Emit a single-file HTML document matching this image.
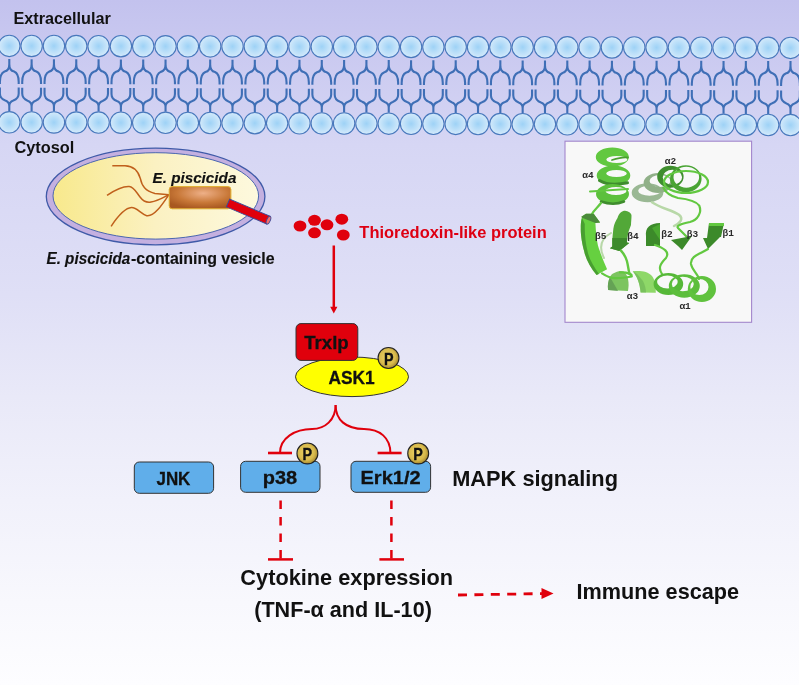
<!DOCTYPE html>
<html><head><meta charset="utf-8">
<style>
html,body{margin:0;padding:0;}
body{width:799px;height:685px;overflow:hidden;background:#fff;}
svg{display:block;will-change:transform;}
svg{font-family:"Liberation Sans",sans-serif;}
</style></head><body>
<svg width="799" height="685" viewBox="0 0 799 685">
<defs>
<linearGradient id="bg" x1="0" y1="0" x2="0" y2="1">
<stop offset="0" stop-color="#c3c2ee"/>
<stop offset="0.21" stop-color="#d6d6f4"/>
<stop offset="0.43" stop-color="#dfdff6"/>
<stop offset="0.58" stop-color="#e9e9f8"/>
<stop offset="0.73" stop-color="#f1f1fb"/>
<stop offset="0.88" stop-color="#f8f8fd"/>
<stop offset="1" stop-color="#fdfdff"/>
</linearGradient>
<radialGradient id="head" cx="0.5" cy="0.5" r="0.5">
<stop offset="0" stop-color="#9ed2f6"/>
<stop offset="1" stop-color="#d4eafb"/>
</radialGradient>
<linearGradient id="ves" x1="0" y1="0" x2="1" y2="0">
<stop offset="0" stop-color="#f8e98c"/>
<stop offset="0.5" stop-color="#fbf1c2"/>
<stop offset="1" stop-color="#fdf9de"/>
</linearGradient>
<radialGradient id="bact" cx="0.55" cy="0.3" r="0.7">
<stop offset="0" stop-color="#eeb088"/>
<stop offset="0.6" stop-color="#c87838"/>
<stop offset="1" stop-color="#a85820"/>
</radialGradient>
<radialGradient id="pg" cx="0.45" cy="0.45" r="0.55">
<stop offset="0" stop-color="#eed466"/>
<stop offset="0.7" stop-color="#d8ba4c"/>
<stop offset="1" stop-color="#a88a30"/>
</radialGradient>
</defs>
<rect x="0" y="0" width="799" height="685" fill="url(#bg)"/>
<text transform="translate(13.51,23.80) scale(0.9762,1)" font-size="16.62" font-weight="bold" font-style="normal" fill="#111" >Extracellular</text>
<path d="M-13.02,59.04 L-13.02,63.84 Q-13.02,70.44 -17.82,71.44 Q-22.42,73.44 -22.42,81.84 L-22.42,83.84 M-22.42,87.52 L-22.42,93.42 Q-22.42,98.42 -17.02,100.52 Q-13.02,101.72 -13.02,106.22 L-13.02,111.22 M-13.02,59.04 L-13.02,63.84 Q-13.02,70.44 -8.22,71.44 Q-3.62,73.44 -3.62,81.84 L-3.62,83.84 M-3.62,87.52 L-3.62,93.42 Q-3.62,98.42 -9.02,100.52 Q-13.02,101.72 -13.02,106.22 L-13.02,111.22 M9.30,59.10 L9.30,63.90 Q9.30,70.50 4.50,71.50 Q-0.10,73.50 -0.10,81.90 L-0.10,83.90 M-0.10,87.60 L-0.10,93.50 Q-0.10,98.50 5.30,100.60 Q9.30,101.80 9.30,106.30 L9.30,111.30 M9.30,59.10 L9.30,63.90 Q9.30,70.50 14.10,71.50 Q18.70,73.50 18.70,81.90 L18.70,83.90 M18.70,87.60 L18.70,93.50 Q18.70,98.50 13.30,100.60 Q9.30,101.80 9.30,106.30 L9.30,111.30 M31.62,59.16 L31.62,63.96 Q31.62,70.56 26.82,71.56 Q22.22,73.56 22.22,81.96 L22.22,83.96 M22.22,87.68 L22.22,93.58 Q22.22,98.58 27.62,100.68 Q31.62,101.88 31.62,106.38 L31.62,111.38 M31.62,59.16 L31.62,63.96 Q31.62,70.56 36.42,71.56 Q41.02,73.56 41.02,81.96 L41.02,83.96 M41.02,87.68 L41.02,93.58 Q41.02,98.58 35.62,100.68 Q31.62,101.88 31.62,106.38 L31.62,111.38 M53.94,59.21 L53.94,64.01 Q53.94,70.61 49.14,71.61 Q44.54,73.61 44.54,82.01 L44.54,84.01 M44.54,87.76 L44.54,93.66 Q44.54,98.66 49.94,100.76 Q53.94,101.96 53.94,106.46 L53.94,111.46 M53.94,59.21 L53.94,64.01 Q53.94,70.61 58.74,71.61 Q63.34,73.61 63.34,82.01 L63.34,84.01 M63.34,87.76 L63.34,93.66 Q63.34,98.66 57.94,100.76 Q53.94,101.96 53.94,106.46 L53.94,111.46 M76.26,59.27 L76.26,64.07 Q76.26,70.67 71.46,71.67 Q66.86,73.67 66.86,82.07 L66.86,84.07 M66.86,87.84 L66.86,93.74 Q66.86,98.74 72.26,100.84 Q76.26,102.04 76.26,106.54 L76.26,111.54 M76.26,59.27 L76.26,64.07 Q76.26,70.67 81.06,71.67 Q85.66,73.67 85.66,82.07 L85.66,84.07 M85.66,87.84 L85.66,93.74 Q85.66,98.74 80.26,100.84 Q76.26,102.04 76.26,106.54 L76.26,111.54 M98.58,59.33 L98.58,64.13 Q98.58,70.73 93.78,71.73 Q89.18,73.73 89.18,82.13 L89.18,84.13 M89.18,87.92 L89.18,93.82 Q89.18,98.82 94.58,100.92 Q98.58,102.12 98.58,106.62 L98.58,111.62 M98.58,59.33 L98.58,64.13 Q98.58,70.73 103.38,71.73 Q107.98,73.73 107.98,82.13 L107.98,84.13 M107.98,87.92 L107.98,93.82 Q107.98,98.82 102.58,100.92 Q98.58,102.12 98.58,106.62 L98.58,111.62 M120.90,59.39 L120.90,64.19 Q120.90,70.79 116.10,71.79 Q111.50,73.79 111.50,82.19 L111.50,84.19 M111.50,88.00 L111.50,93.90 Q111.50,98.90 116.90,101.00 Q120.90,102.20 120.90,106.70 L120.90,111.70 M120.90,59.39 L120.90,64.19 Q120.90,70.79 125.70,71.79 Q130.30,73.79 130.30,82.19 L130.30,84.19 M130.30,88.00 L130.30,93.90 Q130.30,98.90 124.90,101.00 Q120.90,102.20 120.90,106.70 L120.90,111.70 M143.22,59.44 L143.22,64.24 Q143.22,70.84 138.42,71.84 Q133.82,73.84 133.82,82.24 L133.82,84.24 M133.82,88.08 L133.82,93.98 Q133.82,98.98 139.22,101.08 Q143.22,102.28 143.22,106.78 L143.22,111.78 M143.22,59.44 L143.22,64.24 Q143.22,70.84 148.02,71.84 Q152.62,73.84 152.62,82.24 L152.62,84.24 M152.62,88.08 L152.62,93.98 Q152.62,98.98 147.22,101.08 Q143.22,102.28 143.22,106.78 L143.22,111.78 M165.54,59.50 L165.54,64.30 Q165.54,70.90 160.74,71.90 Q156.14,73.90 156.14,82.30 L156.14,84.30 M156.14,88.16 L156.14,94.06 Q156.14,99.06 161.54,101.16 Q165.54,102.36 165.54,106.86 L165.54,111.86 M165.54,59.50 L165.54,64.30 Q165.54,70.90 170.34,71.90 Q174.94,73.90 174.94,82.30 L174.94,84.30 M174.94,88.16 L174.94,94.06 Q174.94,99.06 169.54,101.16 Q165.54,102.36 165.54,106.86 L165.54,111.86 M187.86,59.56 L187.86,64.36 Q187.86,70.96 183.06,71.96 Q178.46,73.96 178.46,82.36 L178.46,84.36 M178.46,88.24 L178.46,94.14 Q178.46,99.14 183.86,101.24 Q187.86,102.44 187.86,106.94 L187.86,111.94 M187.86,59.56 L187.86,64.36 Q187.86,70.96 192.66,71.96 Q197.26,73.96 197.26,82.36 L197.26,84.36 M197.26,88.24 L197.26,94.14 Q197.26,99.14 191.86,101.24 Q187.86,102.44 187.86,106.94 L187.86,111.94 M210.18,59.61 L210.18,64.41 Q210.18,71.01 205.38,72.01 Q200.78,74.01 200.78,82.41 L200.78,84.41 M200.78,88.32 L200.78,94.22 Q200.78,99.22 206.18,101.32 Q210.18,102.52 210.18,107.02 L210.18,112.02 M210.18,59.61 L210.18,64.41 Q210.18,71.01 214.98,72.01 Q219.58,74.01 219.58,82.41 L219.58,84.41 M219.58,88.32 L219.58,94.22 Q219.58,99.22 214.18,101.32 Q210.18,102.52 210.18,107.02 L210.18,112.02 M232.50,59.67 L232.50,64.47 Q232.50,71.07 227.70,72.07 Q223.10,74.07 223.10,82.47 L223.10,84.47 M223.10,88.40 L223.10,94.30 Q223.10,99.30 228.50,101.40 Q232.50,102.60 232.50,107.10 L232.50,112.10 M232.50,59.67 L232.50,64.47 Q232.50,71.07 237.30,72.07 Q241.90,74.07 241.90,82.47 L241.90,84.47 M241.90,88.40 L241.90,94.30 Q241.90,99.30 236.50,101.40 Q232.50,102.60 232.50,107.10 L232.50,112.10 M254.82,59.73 L254.82,64.53 Q254.82,71.13 250.02,72.13 Q245.42,74.13 245.42,82.53 L245.42,84.53 M245.42,88.48 L245.42,94.38 Q245.42,99.38 250.82,101.48 Q254.82,102.68 254.82,107.18 L254.82,112.18 M254.82,59.73 L254.82,64.53 Q254.82,71.13 259.62,72.13 Q264.22,74.13 264.22,82.53 L264.22,84.53 M264.22,88.48 L264.22,94.38 Q264.22,99.38 258.82,101.48 Q254.82,102.68 254.82,107.18 L254.82,112.18 M277.14,59.79 L277.14,64.59 Q277.14,71.19 272.34,72.19 Q267.74,74.19 267.74,82.59 L267.74,84.59 M267.74,88.56 L267.74,94.46 Q267.74,99.46 273.14,101.56 Q277.14,102.76 277.14,107.26 L277.14,112.26 M277.14,59.79 L277.14,64.59 Q277.14,71.19 281.94,72.19 Q286.54,74.19 286.54,82.59 L286.54,84.59 M286.54,88.56 L286.54,94.46 Q286.54,99.46 281.14,101.56 Q277.14,102.76 277.14,107.26 L277.14,112.26 M299.46,59.84 L299.46,64.64 Q299.46,71.24 294.66,72.24 Q290.06,74.24 290.06,82.64 L290.06,84.64 M290.06,88.64 L290.06,94.54 Q290.06,99.54 295.46,101.64 Q299.46,102.84 299.46,107.34 L299.46,112.34 M299.46,59.84 L299.46,64.64 Q299.46,71.24 304.26,72.24 Q308.86,74.24 308.86,82.64 L308.86,84.64 M308.86,88.64 L308.86,94.54 Q308.86,99.54 303.46,101.64 Q299.46,102.84 299.46,107.34 L299.46,112.34 M321.78,59.90 L321.78,64.70 Q321.78,71.30 316.98,72.30 Q312.38,74.30 312.38,82.70 L312.38,84.70 M312.38,88.72 L312.38,94.62 Q312.38,99.62 317.78,101.72 Q321.78,102.92 321.78,107.42 L321.78,112.42 M321.78,59.90 L321.78,64.70 Q321.78,71.30 326.58,72.30 Q331.18,74.30 331.18,82.70 L331.18,84.70 M331.18,88.72 L331.18,94.62 Q331.18,99.62 325.78,101.72 Q321.78,102.92 321.78,107.42 L321.78,112.42 M344.10,59.96 L344.10,64.76 Q344.10,71.36 339.30,72.36 Q334.70,74.36 334.70,82.76 L334.70,84.76 M334.70,88.80 L334.70,94.70 Q334.70,99.70 340.10,101.80 Q344.10,103.00 344.10,107.50 L344.10,112.50 M344.10,59.96 L344.10,64.76 Q344.10,71.36 348.90,72.36 Q353.50,74.36 353.50,82.76 L353.50,84.76 M353.50,88.80 L353.50,94.70 Q353.50,99.70 348.10,101.80 Q344.10,103.00 344.10,107.50 L344.10,112.50 M366.42,60.01 L366.42,64.81 Q366.42,71.41 361.62,72.41 Q357.02,74.41 357.02,82.81 L357.02,84.81 M357.02,88.88 L357.02,94.78 Q357.02,99.78 362.42,101.88 Q366.42,103.08 366.42,107.58 L366.42,112.58 M366.42,60.01 L366.42,64.81 Q366.42,71.41 371.22,72.41 Q375.82,74.41 375.82,82.81 L375.82,84.81 M375.82,88.88 L375.82,94.78 Q375.82,99.78 370.42,101.88 Q366.42,103.08 366.42,107.58 L366.42,112.58 M388.74,60.07 L388.74,64.87 Q388.74,71.47 383.94,72.47 Q379.34,74.47 379.34,82.87 L379.34,84.87 M379.34,88.96 L379.34,94.86 Q379.34,99.86 384.74,101.96 Q388.74,103.16 388.74,107.66 L388.74,112.66 M388.74,60.07 L388.74,64.87 Q388.74,71.47 393.54,72.47 Q398.14,74.47 398.14,82.87 L398.14,84.87 M398.14,88.96 L398.14,94.86 Q398.14,99.86 392.74,101.96 Q388.74,103.16 388.74,107.66 L388.74,112.66 M411.06,60.13 L411.06,64.93 Q411.06,71.53 406.26,72.53 Q401.66,74.53 401.66,82.93 L401.66,84.93 M401.66,89.04 L401.66,94.94 Q401.66,99.94 407.06,102.04 Q411.06,103.24 411.06,107.74 L411.06,112.74 M411.06,60.13 L411.06,64.93 Q411.06,71.53 415.86,72.53 Q420.46,74.53 420.46,82.93 L420.46,84.93 M420.46,89.04 L420.46,94.94 Q420.46,99.94 415.06,102.04 Q411.06,103.24 411.06,107.74 L411.06,112.74 M433.38,60.19 L433.38,64.99 Q433.38,71.59 428.58,72.59 Q423.98,74.59 423.98,82.99 L423.98,84.99 M423.98,89.12 L423.98,95.02 Q423.98,100.02 429.38,102.12 Q433.38,103.32 433.38,107.82 L433.38,112.82 M433.38,60.19 L433.38,64.99 Q433.38,71.59 438.18,72.59 Q442.78,74.59 442.78,82.99 L442.78,84.99 M442.78,89.12 L442.78,95.02 Q442.78,100.02 437.38,102.12 Q433.38,103.32 433.38,107.82 L433.38,112.82 M455.70,60.24 L455.70,65.04 Q455.70,71.64 450.90,72.64 Q446.30,74.64 446.30,83.04 L446.30,85.04 M446.30,89.20 L446.30,95.10 Q446.30,100.10 451.70,102.20 Q455.70,103.40 455.70,107.90 L455.70,112.90 M455.70,60.24 L455.70,65.04 Q455.70,71.64 460.50,72.64 Q465.10,74.64 465.10,83.04 L465.10,85.04 M465.10,89.20 L465.10,95.10 Q465.10,100.10 459.70,102.20 Q455.70,103.40 455.70,107.90 L455.70,112.90 M478.02,60.30 L478.02,65.10 Q478.02,71.70 473.22,72.70 Q468.62,74.70 468.62,83.10 L468.62,85.10 M468.62,89.28 L468.62,95.18 Q468.62,100.18 474.02,102.28 Q478.02,103.48 478.02,107.98 L478.02,112.98 M478.02,60.30 L478.02,65.10 Q478.02,71.70 482.82,72.70 Q487.42,74.70 487.42,83.10 L487.42,85.10 M487.42,89.28 L487.42,95.18 Q487.42,100.18 482.02,102.28 Q478.02,103.48 478.02,107.98 L478.02,112.98 M500.34,60.36 L500.34,65.16 Q500.34,71.76 495.54,72.76 Q490.94,74.76 490.94,83.16 L490.94,85.16 M490.94,89.36 L490.94,95.26 Q490.94,100.26 496.34,102.36 Q500.34,103.56 500.34,108.06 L500.34,113.06 M500.34,60.36 L500.34,65.16 Q500.34,71.76 505.14,72.76 Q509.74,74.76 509.74,83.16 L509.74,85.16 M509.74,89.36 L509.74,95.26 Q509.74,100.26 504.34,102.36 Q500.34,103.56 500.34,108.06 L500.34,113.06 M522.66,60.41 L522.66,65.21 Q522.66,71.81 517.86,72.81 Q513.26,74.81 513.26,83.21 L513.26,85.21 M513.26,89.44 L513.26,95.34 Q513.26,100.34 518.66,102.44 Q522.66,103.64 522.66,108.14 L522.66,113.14 M522.66,60.41 L522.66,65.21 Q522.66,71.81 527.46,72.81 Q532.06,74.81 532.06,83.21 L532.06,85.21 M532.06,89.44 L532.06,95.34 Q532.06,100.34 526.66,102.44 Q522.66,103.64 522.66,108.14 L522.66,113.14 M544.98,60.47 L544.98,65.27 Q544.98,71.87 540.18,72.87 Q535.58,74.87 535.58,83.27 L535.58,85.27 M535.58,89.52 L535.58,95.42 Q535.58,100.42 540.98,102.52 Q544.98,103.72 544.98,108.22 L544.98,113.22 M544.98,60.47 L544.98,65.27 Q544.98,71.87 549.78,72.87 Q554.38,74.87 554.38,83.27 L554.38,85.27 M554.38,89.52 L554.38,95.42 Q554.38,100.42 548.98,102.52 Q544.98,103.72 544.98,108.22 L544.98,113.22 M567.30,60.53 L567.30,65.33 Q567.30,71.93 562.50,72.93 Q557.90,74.93 557.90,83.33 L557.90,85.33 M557.90,89.60 L557.90,95.50 Q557.90,100.50 563.30,102.60 Q567.30,103.80 567.30,108.30 L567.30,113.30 M567.30,60.53 L567.30,65.33 Q567.30,71.93 572.10,72.93 Q576.70,74.93 576.70,83.33 L576.70,85.33 M576.70,89.60 L576.70,95.50 Q576.70,100.50 571.30,102.60 Q567.30,103.80 567.30,108.30 L567.30,113.30 M589.62,60.59 L589.62,65.39 Q589.62,71.99 584.82,72.99 Q580.22,74.99 580.22,83.39 L580.22,85.39 M580.22,89.68 L580.22,95.58 Q580.22,100.58 585.62,102.68 Q589.62,103.88 589.62,108.38 L589.62,113.38 M589.62,60.59 L589.62,65.39 Q589.62,71.99 594.42,72.99 Q599.02,74.99 599.02,83.39 L599.02,85.39 M599.02,89.68 L599.02,95.58 Q599.02,100.58 593.62,102.68 Q589.62,103.88 589.62,108.38 L589.62,113.38 M611.94,60.64 L611.94,65.44 Q611.94,72.04 607.14,73.04 Q602.54,75.04 602.54,83.44 L602.54,85.44 M602.54,89.76 L602.54,95.66 Q602.54,100.66 607.94,102.76 Q611.94,103.96 611.94,108.46 L611.94,113.46 M611.94,60.64 L611.94,65.44 Q611.94,72.04 616.74,73.04 Q621.34,75.04 621.34,83.44 L621.34,85.44 M621.34,89.76 L621.34,95.66 Q621.34,100.66 615.94,102.76 Q611.94,103.96 611.94,108.46 L611.94,113.46 M634.26,60.70 L634.26,65.50 Q634.26,72.10 629.46,73.10 Q624.86,75.10 624.86,83.50 L624.86,85.50 M624.86,89.84 L624.86,95.74 Q624.86,100.74 630.26,102.84 Q634.26,104.04 634.26,108.54 L634.26,113.54 M634.26,60.70 L634.26,65.50 Q634.26,72.10 639.06,73.10 Q643.66,75.10 643.66,83.50 L643.66,85.50 M643.66,89.84 L643.66,95.74 Q643.66,100.74 638.26,102.84 Q634.26,104.04 634.26,108.54 L634.26,113.54 M656.58,60.76 L656.58,65.56 Q656.58,72.16 651.78,73.16 Q647.18,75.16 647.18,83.56 L647.18,85.56 M647.18,89.92 L647.18,95.82 Q647.18,100.82 652.58,102.92 Q656.58,104.12 656.58,108.62 L656.58,113.62 M656.58,60.76 L656.58,65.56 Q656.58,72.16 661.38,73.16 Q665.98,75.16 665.98,83.56 L665.98,85.56 M665.98,89.92 L665.98,95.82 Q665.98,100.82 660.58,102.92 Q656.58,104.12 656.58,108.62 L656.58,113.62 M678.90,60.81 L678.90,65.61 Q678.90,72.21 674.10,73.21 Q669.50,75.21 669.50,83.61 L669.50,85.61 M669.50,90.00 L669.50,95.90 Q669.50,100.90 674.90,103.00 Q678.90,104.20 678.90,108.70 L678.90,113.70 M678.90,60.81 L678.90,65.61 Q678.90,72.21 683.70,73.21 Q688.30,75.21 688.30,83.61 L688.30,85.61 M688.30,90.00 L688.30,95.90 Q688.30,100.90 682.90,103.00 Q678.90,104.20 678.90,108.70 L678.90,113.70 M701.22,60.87 L701.22,65.67 Q701.22,72.27 696.42,73.27 Q691.82,75.27 691.82,83.67 L691.82,85.67 M691.82,90.08 L691.82,95.98 Q691.82,100.98 697.22,103.08 Q701.22,104.28 701.22,108.78 L701.22,113.78 M701.22,60.87 L701.22,65.67 Q701.22,72.27 706.02,73.27 Q710.62,75.27 710.62,83.67 L710.62,85.67 M710.62,90.08 L710.62,95.98 Q710.62,100.98 705.22,103.08 Q701.22,104.28 701.22,108.78 L701.22,113.78 M723.54,60.93 L723.54,65.73 Q723.54,72.33 718.74,73.33 Q714.14,75.33 714.14,83.73 L714.14,85.73 M714.14,90.16 L714.14,96.06 Q714.14,101.06 719.54,103.16 Q723.54,104.36 723.54,108.86 L723.54,113.86 M723.54,60.93 L723.54,65.73 Q723.54,72.33 728.34,73.33 Q732.94,75.33 732.94,83.73 L732.94,85.73 M732.94,90.16 L732.94,96.06 Q732.94,101.06 727.54,103.16 Q723.54,104.36 723.54,108.86 L723.54,113.86 M745.86,60.99 L745.86,65.79 Q745.86,72.39 741.06,73.39 Q736.46,75.39 736.46,83.79 L736.46,85.79 M736.46,90.24 L736.46,96.14 Q736.46,101.14 741.86,103.24 Q745.86,104.44 745.86,108.94 L745.86,113.94 M745.86,60.99 L745.86,65.79 Q745.86,72.39 750.66,73.39 Q755.26,75.39 755.26,83.79 L755.26,85.79 M755.26,90.24 L755.26,96.14 Q755.26,101.14 749.86,103.24 Q745.86,104.44 745.86,108.94 L745.86,113.94 M768.18,61.04 L768.18,65.84 Q768.18,72.44 763.38,73.44 Q758.78,75.44 758.78,83.84 L758.78,85.84 M758.78,90.32 L758.78,96.22 Q758.78,101.22 764.18,103.32 Q768.18,104.52 768.18,109.02 L768.18,114.02 M768.18,61.04 L768.18,65.84 Q768.18,72.44 772.98,73.44 Q777.58,75.44 777.58,83.84 L777.58,85.84 M777.58,90.32 L777.58,96.22 Q777.58,101.22 772.18,103.32 Q768.18,104.52 768.18,109.02 L768.18,114.02 M790.50,61.10 L790.50,65.90 Q790.50,72.50 785.70,73.50 Q781.10,75.50 781.10,83.90 L781.10,85.90 M781.10,90.40 L781.10,96.30 Q781.10,101.30 786.50,103.40 Q790.50,104.60 790.50,109.10 L790.50,114.10 M790.50,61.10 L790.50,65.90 Q790.50,72.50 795.30,73.50 Q799.90,75.50 799.90,83.90 L799.90,85.90 M799.90,90.40 L799.90,96.30 Q799.90,101.30 794.50,103.40 Q790.50,104.60 790.50,109.10 L790.50,114.10 M812.82,61.16 L812.82,65.96 Q812.82,72.56 808.02,73.56 Q803.42,75.56 803.42,83.96 L803.42,85.96 M803.42,90.48 L803.42,96.38 Q803.42,101.38 808.82,103.48 Q812.82,104.68 812.82,109.18 L812.82,114.18 M812.82,61.16 L812.82,65.96 Q812.82,72.56 817.62,73.56 Q822.22,75.56 822.22,83.96 L822.22,85.96 M822.22,90.48 L822.22,96.38 Q822.22,101.38 816.82,103.48 Q812.82,104.68 812.82,109.18 L812.82,114.18" fill="none" stroke="#3f6fb6" stroke-width="2.1"/>
<g fill="url(#head)" stroke="#4878bc" stroke-width="1.1"><circle cx="-13.02" cy="45.84" r="10.7"/><circle cx="-13.02" cy="122.22" r="10.7"/><circle cx="9.30" cy="45.90" r="10.7"/><circle cx="9.30" cy="122.30" r="10.7"/><circle cx="31.62" cy="45.96" r="10.7"/><circle cx="31.62" cy="122.38" r="10.7"/><circle cx="53.94" cy="46.01" r="10.7"/><circle cx="53.94" cy="122.46" r="10.7"/><circle cx="76.26" cy="46.07" r="10.7"/><circle cx="76.26" cy="122.54" r="10.7"/><circle cx="98.58" cy="46.13" r="10.7"/><circle cx="98.58" cy="122.62" r="10.7"/><circle cx="120.90" cy="46.19" r="10.7"/><circle cx="120.90" cy="122.70" r="10.7"/><circle cx="143.22" cy="46.24" r="10.7"/><circle cx="143.22" cy="122.78" r="10.7"/><circle cx="165.54" cy="46.30" r="10.7"/><circle cx="165.54" cy="122.86" r="10.7"/><circle cx="187.86" cy="46.36" r="10.7"/><circle cx="187.86" cy="122.94" r="10.7"/><circle cx="210.18" cy="46.41" r="10.7"/><circle cx="210.18" cy="123.02" r="10.7"/><circle cx="232.50" cy="46.47" r="10.7"/><circle cx="232.50" cy="123.10" r="10.7"/><circle cx="254.82" cy="46.53" r="10.7"/><circle cx="254.82" cy="123.18" r="10.7"/><circle cx="277.14" cy="46.59" r="10.7"/><circle cx="277.14" cy="123.26" r="10.7"/><circle cx="299.46" cy="46.64" r="10.7"/><circle cx="299.46" cy="123.34" r="10.7"/><circle cx="321.78" cy="46.70" r="10.7"/><circle cx="321.78" cy="123.42" r="10.7"/><circle cx="344.10" cy="46.76" r="10.7"/><circle cx="344.10" cy="123.50" r="10.7"/><circle cx="366.42" cy="46.81" r="10.7"/><circle cx="366.42" cy="123.58" r="10.7"/><circle cx="388.74" cy="46.87" r="10.7"/><circle cx="388.74" cy="123.66" r="10.7"/><circle cx="411.06" cy="46.93" r="10.7"/><circle cx="411.06" cy="123.74" r="10.7"/><circle cx="433.38" cy="46.99" r="10.7"/><circle cx="433.38" cy="123.82" r="10.7"/><circle cx="455.70" cy="47.04" r="10.7"/><circle cx="455.70" cy="123.90" r="10.7"/><circle cx="478.02" cy="47.10" r="10.7"/><circle cx="478.02" cy="123.98" r="10.7"/><circle cx="500.34" cy="47.16" r="10.7"/><circle cx="500.34" cy="124.06" r="10.7"/><circle cx="522.66" cy="47.21" r="10.7"/><circle cx="522.66" cy="124.14" r="10.7"/><circle cx="544.98" cy="47.27" r="10.7"/><circle cx="544.98" cy="124.22" r="10.7"/><circle cx="567.30" cy="47.33" r="10.7"/><circle cx="567.30" cy="124.30" r="10.7"/><circle cx="589.62" cy="47.39" r="10.7"/><circle cx="589.62" cy="124.38" r="10.7"/><circle cx="611.94" cy="47.44" r="10.7"/><circle cx="611.94" cy="124.46" r="10.7"/><circle cx="634.26" cy="47.50" r="10.7"/><circle cx="634.26" cy="124.54" r="10.7"/><circle cx="656.58" cy="47.56" r="10.7"/><circle cx="656.58" cy="124.62" r="10.7"/><circle cx="678.90" cy="47.61" r="10.7"/><circle cx="678.90" cy="124.70" r="10.7"/><circle cx="701.22" cy="47.67" r="10.7"/><circle cx="701.22" cy="124.78" r="10.7"/><circle cx="723.54" cy="47.73" r="10.7"/><circle cx="723.54" cy="124.86" r="10.7"/><circle cx="745.86" cy="47.79" r="10.7"/><circle cx="745.86" cy="124.94" r="10.7"/><circle cx="768.18" cy="47.84" r="10.7"/><circle cx="768.18" cy="125.02" r="10.7"/><circle cx="790.50" cy="47.90" r="10.7"/><circle cx="790.50" cy="125.10" r="10.7"/><circle cx="812.82" cy="47.96" r="10.7"/><circle cx="812.82" cy="125.18" r="10.7"/></g>
<text transform="translate(14.45,152.50) scale(0.9836,1)" font-size="16.62" font-weight="bold" font-style="normal" fill="#111" >Cytosol</text>

<!-- vesicle -->
<ellipse cx="155.6" cy="196.5" rx="109.3" ry="48.3" fill="#c4b0e0" stroke="#3f5aa8" stroke-width="1.3"/>
<ellipse cx="155.8" cy="195.9" rx="102.8" ry="43.2" fill="url(#ves)" stroke="#4a66b0" stroke-width="1"/>
<g fill="none" stroke="#c0601c" stroke-width="1.5">
<path d="M112.3,165.7 L125,165.7 C133,166 138,170 140.3,178.4 C142,186 145,191 154.9,193.5 L168.9,194.7"/>
<path d="M107,195.3 C115,190 122,186 129.2,186.5 C134,187 136,192 140,197 C143,201 146,203 151,202 C158,201 164,197 168.9,194.7"/>
<path d="M111.1,226.3 C116,219 124,208 131.5,207.6 C137,207.5 141,214 146.7,215.7 C154,217 162,205 168.9,194.7"/>
</g>
<rect x="169.2" y="186.6" width="61.7" height="22.2" rx="3" fill="url(#bact)" stroke="#e0b030" stroke-width="1"/>
<g transform="translate(228,203) rotate(23)">
<rect x="0" y="-4.2" width="44" height="8.4" fill="#e0000c" stroke="#3a4a98" stroke-width="0.9"/>
<ellipse cx="44" cy="0" rx="1.8" ry="4.2" fill="#f07070" stroke="#3a4a98" stroke-width="0.9"/>
</g>
<text transform="translate(152.49,183.10) scale(1.0114,1)" font-size="15.08" font-weight="bold" font-style="italic" fill="#111" stroke="#111" stroke-width="0.15">E. piscicida</text>
<text transform="translate(46.49,263.60) scale(0.9667,1)" font-size="15.78" font-weight="bold" font-style="italic" fill="#111" stroke="#111" stroke-width="0.15">E. piscicida</text>
<text transform="translate(130.96,263.60) scale(1.0111,1)" font-size="15.78" font-weight="bold" font-style="normal" fill="#111" stroke="#111" stroke-width="0.15">-containing vesicle</text>

<!-- thioredoxin dots -->
<g fill="#e0000c">
<ellipse cx="300" cy="226" rx="6.4" ry="5.5"/>
<ellipse cx="314.5" cy="220.3" rx="6.4" ry="5.5"/>
<ellipse cx="314.5" cy="232.8" rx="6.4" ry="5.5"/>
<ellipse cx="327" cy="224.8" rx="6.4" ry="5.5"/>
<ellipse cx="341.8" cy="219.2" rx="6.4" ry="5.5"/>
<ellipse cx="343.3" cy="235" rx="6.4" ry="5.5"/>
</g>
<text transform="translate(359.34,238.20) scale(1.0337,1)" font-size="15.92" font-weight="bold" font-style="normal" fill="#de0012" >Thioredoxin-like protein</text>

<!-- arrow -->
<line x1="333.8" y1="245.5" x2="333.8" y2="308" stroke="#e0000c" stroke-width="2.5"/>
<path d="M330.2,306.7 L337.4,306.7 L333.8,313.4 Z" fill="#e0000c"/>

<!-- Trxlp / ASK1 -->
<ellipse cx="352" cy="376.8" rx="56.5" ry="19.8" fill="#ffff00" stroke="#333" stroke-width="1"/>
<rect x="296" y="323.6" width="61.8" height="36.8" rx="5" fill="#e0000c" stroke="#333" stroke-width="1"/>
<text transform="translate(304.31,349.00) scale(0.9787,1)" font-size="18.99" font-weight="bold" font-style="normal" fill="#111" stroke="#111" stroke-width="0.3">Trxlp</text>
<text transform="translate(328.48,383.60) scale(0.9764,1)" font-size="17.74" font-weight="bold" font-style="normal" fill="#111" stroke="#111" stroke-width="0.3">ASK1</text>
<circle cx="388.5" cy="358" r="10.45" fill="url(#pg)" stroke="#222" stroke-width="1.1"/>
<text transform="translate(383.90,364.70) scale(0.8668,1)" font-size="16.48" font-weight="bold" font-style="normal" fill="#111" stroke="#111" stroke-width="0.4">P</text>

<!-- brace -->
<g fill="none" stroke="#e0000c" stroke-width="2">
<path d="M335.6,405 C335.6,420 325,429 312,429 C295,429 280,438 280,453"/>
<path d="M335.6,405 C335.6,420 346,429 364,429 C380,429 390.4,438 390.4,453"/>
<line x1="268" y1="453" x2="292" y2="453" stroke-width="2.6"/>
<line x1="377.6" y1="453" x2="401.6" y2="453" stroke-width="2.6"/>
</g>

<!-- MAPK boxes -->
<g fill="#60aeea" stroke="#333" stroke-width="1">
<rect x="134.3" y="462" width="79.3" height="31.3" rx="5"/>
<rect x="240.6" y="461.3" width="79.4" height="31" rx="5"/>
<rect x="351" y="461.3" width="79.6" height="31" rx="5"/>
</g>
<text transform="translate(156.46,484.80) scale(0.9127,1)" font-size="18.58" font-weight="bold" font-style="normal" fill="#111" stroke="#111" stroke-width="0.3">JNK</text>
<text transform="translate(262.70,483.70) scale(1.1015,1)" font-size="18.16" font-weight="bold" font-style="normal" fill="#111" stroke="#111" stroke-width="0.3">p38</text>
<text transform="translate(360.50,483.75) scale(1.1034,1)" font-size="18.16" font-weight="bold" font-style="normal" fill="#111" stroke="#111" stroke-width="0.3">Erk1/2</text>
<circle cx="307.4" cy="453.4" r="10.45" fill="url(#pg)" stroke="#222" stroke-width="1.1"/>
<text transform="translate(302.40,459.80) scale(0.8668,1)" font-size="16.48" font-weight="bold" font-style="normal" fill="#111" stroke="#111" stroke-width="0.4">P</text>
<circle cx="418.2" cy="453.4" r="10.45" fill="url(#pg)" stroke="#222" stroke-width="1.1"/>
<text transform="translate(413.20,459.80) scale(0.8668,1)" font-size="16.48" font-weight="bold" font-style="normal" fill="#111" stroke="#111" stroke-width="0.4">P</text>
<text transform="translate(452.22,485.50) scale(0.9936,1)" font-size="21.93" font-weight="bold" font-style="normal" fill="#111" >MAPK signaling</text>

<!-- dashed inhibitions -->
<g stroke="#e0000c" stroke-width="2.5" fill="none">
<line x1="280.6" y1="500.6" x2="280.6" y2="559" stroke-dasharray="8.5,8"/>
<line x1="391.4" y1="500.6" x2="391.4" y2="559" stroke-dasharray="8.5,8"/>
<line x1="268" y1="559.4" x2="293" y2="559.4"/>
<line x1="379.4" y1="559.4" x2="404" y2="559.4"/>
</g>
<text transform="translate(240.33,584.80) scale(0.9986,1)" font-size="21.79" font-weight="bold" font-style="normal" fill="#111" >Cytokine expression</text>
<text transform="translate(254.22,617.10) scale(0.9914,1)" font-size="21.79" font-weight="bold" font-style="normal" fill="#111" >(TNF-α and IL-10)</text>
<g stroke="#e0000c" stroke-width="2.8" fill="none">
<line x1="458" y1="595" x2="542" y2="593.6" stroke-dasharray="9,7.4"/>
</g>
<path d="M541.5,588 L553.5,593.6 L541.5,599 Z" fill="#e0000c"/>
<text transform="translate(576.58,599.20) scale(0.9942,1)" font-size="21.79" font-weight="bold" font-style="normal" fill="#111" >Immune escape</text>

<!-- protein box -->
<rect x="565" y="141.2" width="186.6" height="181.1" fill="#f8f8f8" stroke="#a386cc" stroke-width="1.1"/>
<g stroke-linecap="round" stroke-linejoin="round">
<path d="M631.70,192.70 A15.80,9.50 0 1 0 663.30,192.70 A15.80,9.50 0 1 0 631.70,192.70 Z M638.20,190.70 A11.30,5.00 0 1 0 660.80,190.70 A11.30,5.00 0 1 0 638.20,190.70 Z" fill="#9ab894" fill-rule="evenodd"/>
<path d="M643.60,183.00 A14.40,10.00 0 1 0 672.40,183.00 A14.40,10.00 0 1 0 643.60,183.00 Z M649.60,181.00 A10.40,6.00 0 1 0 670.40,181.00 A10.40,6.00 0 1 0 649.60,181.00 Z" fill="#90b088" fill-rule="evenodd"/>
<path d="M652,202.3 C660,208 672,210 679,214.7 C684,219 680,223 674,226" fill="none" stroke="#b8d8a8" stroke-width="2.5"/>
<path d="M611,233 C602,238 598,246 604,258" fill="none" stroke="#b8d8a8" stroke-width="2"/>
<path d="M608.1,290 C607.5,285 608,281.3 610,277 C612,273 615.2,272.5 618,271.5 C621,270.8 623.9,270.8 626,274 C628,277 628.7,281.3 628.6,285 C628.5,288 628,291 628,291 Z" fill="#7cc460"/>
<path d="M608.1,290 C607.5,285 608,281.3 610,277 L618,291 Z" fill="#5f9a52" opacity="0.8"/>
<path d="M640.6,292.5 C640,284 637,276 632.7,271.2 C640,270.5 648,271 652,276 C655,280 655.8,286 655.8,292.7 Z" fill="#8ed868"/>
<path d="M640.6,292.5 C640,284 637,276 632.7,271.2 C636,272 639,276 643,281 C645,285 646,289 646,292.6 Z" fill="#70b858" opacity="0.7"/>
<path d="M602,273.4 C606,276 610,278.2 615.2,278.2 C621,278 628,277.5 631.8,276.5 C630,273 625,272 620,272.5" fill="none" stroke="#62c840" stroke-width="2.2"/>
<path d="M595.80,157.00 A16.50,9.60 0 1 0 628.80,157.00 A16.50,9.60 0 1 0 595.80,157.00 Z M606.30,159.50 A10.50,3.60 0 1 0 627.30,159.50 A10.50,3.60 0 1 0 606.30,159.50 Z" fill="#62c840" fill-rule="evenodd"/>
<path d="M612,160 C618,158 624,157 628,157.5" fill="none" stroke="#4aa030" stroke-width="1.8"/>
<path d="M596.70,175.50 A16.80,10.00 0 1 0 630.30,175.50 A16.80,10.00 0 1 0 596.70,175.50 Z M606.20,173.50 A10.30,3.50 0 1 0 626.80,173.50 A10.30,3.50 0 1 0 606.20,173.50 Z" fill="#5ec43e" fill-rule="evenodd"/>
<path d="M599.5,180.5 C606,184.5 617,185 627.5,182.8" fill="none" stroke="#3f8c2e" stroke-width="3"/>
<path d="M596.00,194.00 A16.50,10.00 0 1 0 629.00,194.00 A16.50,10.00 0 1 0 596.00,194.00 Z M605.50,191.00 A10.50,4.00 0 1 0 626.50,191.00 A10.50,4.00 0 1 0 605.50,191.00 Z" fill="#5cc03c" fill-rule="evenodd"/>
<path d="M601,201.5 C608,204 617,204.5 624,201.5" fill="none" stroke="#3f8c2e" stroke-width="2.5"/>
<path d="M590,191.5 L628,189" fill="none" stroke="#62c840" stroke-width="2"/>
<path d="M601,203 C598,207 594,210 592,214" fill="none" stroke="#62c840" stroke-width="2.2"/>
<path d="M657.20,176.70 A13.20,11.00 0 1 0 683.60,176.70 A13.20,11.00 0 1 0 657.20,176.70 Z M662.70,177.20 A9.70,7.50 0 1 0 682.10,177.20 A9.70,7.50 0 1 0 662.70,177.20 Z" fill="#3f8e2e" fill-rule="evenodd"/>
<path d="M670.00,178.70 A15.80,13.50 0 1 0 701.60,178.70 A15.80,13.50 0 1 0 670.00,178.70 Z M673.50,177.20 A12.80,10.50 0 1 0 699.10,177.20 A12.80,10.50 0 1 0 673.50,177.20 Z" fill="#4aa434" fill-rule="evenodd"/>
<ellipse cx="686" cy="182" rx="22" ry="11" fill="none" stroke="#62c840" stroke-width="2.2"/>
<path d="M663.3,187.7 C666,193 670,196 678,198 C688,199 696,201 699.3,205.7 C702,212 698,220 690,222 C680,224 676,226 678,228 L687,237" fill="none" stroke="#62c840" stroke-width="2.2"/>
<path d="M581.4,216.7 L586,213.8 L593.7,213.8 L600.1,222.5 L595.4,223.1 C596,232 596.5,244 600.1,251.7 C602,258 605,264 607.1,269.3 L596.6,275.1 C591,268 586,260 584.3,251.7 C582,244 580.5,234 580.8,228 C580.8,222 581.5,219 582,217.8 Z" fill="#66d040"/>
<path d="M582,217.8 C581.5,219 580.8,222 580.8,228 C580.5,234 582,244 584.3,251.7 C586,260 591,268 596.6,275.1 L599,274 C594,267 589,259 587.5,251 C585.5,243 584.5,233 584.8,224 Z" fill="#3c8a2a" opacity="0.7"/>
<path d="M581.4,216.7 L586,213.8 L593.7,213.8 L600.1,222.5 L595.4,223.1 L582,217.8 Z" fill="#4a8a3a"/>
<path d="M617.5,217.9 C619,213 622,210.8 625.1,210.8 C628,211 631.5,213 631.5,215.5 C631.5,219 631,222 631,224.9 C630,228 628.5,231 628,234.2 C627.5,237 627,240 626.9,242.4 L629.2,243 L619.3,251.1 L609.9,248.2 L612.3,246.5 C612.3,244 612.3,242 612.3,240 C612.5,236 613,232 613.4,228.4 C614,224 616,220 617.5,217.9 Z" fill="#52a838"/>
<path d="M612.3,238 L627.2,238 L626.9,242.4 L629.2,243 L619.3,251.1 L609.9,248.2 L612.3,246.5 Z" fill="#3d8a2c"/>
<path d="M621,250.6 C624,254 626,258 626.9,261 C628,265 628.5,270 629.2,272.8 L631.5,275" fill="none" stroke="#62c840" stroke-width="2.4"/>
<path d="M646,236 C645,228 650,223 660,223 L660,246 L646,246 Z" fill="#3c8a2a"/>
<path d="M652,228 L660,224 L660,240 Z" fill="#4aa830"/>
<path d="M671,240 L692,236 L682,250 L678,246 Z" fill="#3c8a2a"/>
<path d="M709,223 L724,223 L721,237 L720,237 L708,249 L703,238 L707,238 Z" fill="#3c8a2a"/>
<path d="M709,223 L724,223 L724,226 L709,226 Z" fill="#62c840"/>
<path d="M708,249 C700,254 690,256 691,264 C692,270 698,274 699,279" fill="none" stroke="#62c840" stroke-width="2.2"/>
<path d="M655,245 C664,248 670,252 666,258 C660,264 658,268 662,274" fill="none" stroke="#62c840" stroke-width="2.2"/>
<path d="M653.60,284.00 A14.80,11.00 0 1 0 683.20,284.00 A14.80,11.00 0 1 0 653.60,284.00 Z M657.10,282.00 A10.30,6.50 0 1 0 677.70,282.00 A10.30,6.50 0 1 0 657.10,282.00 Z" fill="#56b838" fill-rule="evenodd"/>
<path d="M668.80,286.00 A15.50,11.80 0 1 0 699.80,286.00 A15.50,11.80 0 1 0 668.80,286.00 Z M671.80,284.00 A11.00,7.30 0 1 0 693.80,284.00 A11.00,7.30 0 1 0 671.80,284.00 Z" fill="#5cbe3c" fill-rule="evenodd"/>
<path d="M687.80,289.00 A14.10,13.00 0 1 0 716.00,289.00 A14.10,13.00 0 1 0 687.80,289.00 Z M690.30,287.00 A9.10,8.00 0 1 0 708.50,287.00 A9.10,8.00 0 1 0 690.30,287.00 Z" fill="#60c23e" fill-rule="evenodd"/>
</g>
<g font-family="Liberation Mono" font-weight="bold" font-size="9.5" fill="#2a2a2a">
<text x="582.2" y="177.7">α4</text>
<text x="664.7" y="163.8">α2</text>
<text x="595" y="238.5">β5</text>
<text x="627.2" y="238.5">β4</text>
<text x="661.2" y="237">β2</text>
<text x="686.7" y="237">β3</text>
<text x="722.5" y="236.3">β1</text>
<text x="626.8" y="299.3">α3</text>
<text x="679.4" y="308.5">α1</text>
</g>
</svg>
</body></html>
